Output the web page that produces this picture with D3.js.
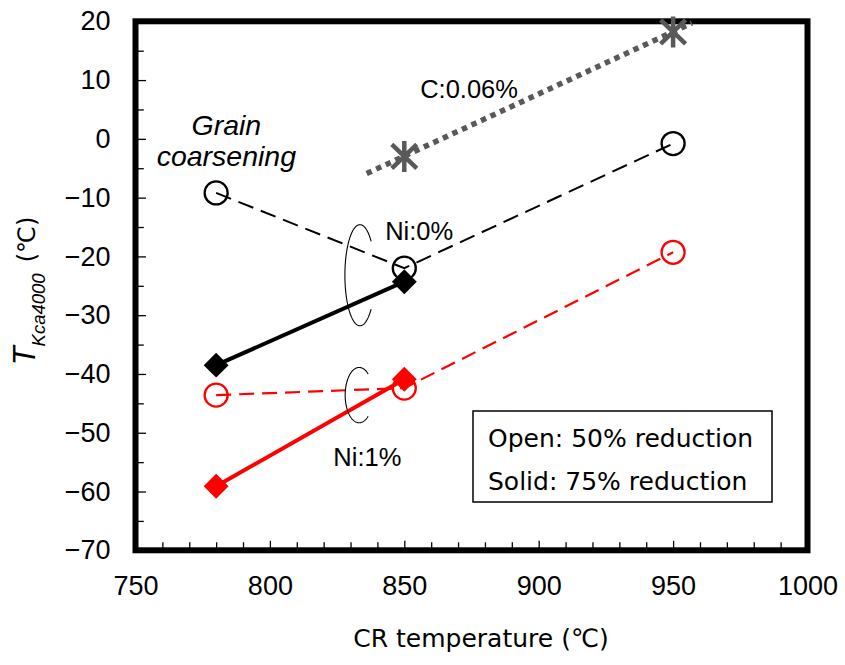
<!DOCTYPE html>
<html>
<head>
<meta charset="utf-8">
<script src="https://cdn.jsdelivr.net/npm/d3@7"></script>
<style>
  html, body { margin: 0; padding: 0; background: #fff; }
  svg { display: block; }
  .tick text { font-family: "Liberation Sans", Arial, sans-serif; font-size: 27px; fill: #000; }
</style>
</head>
<body>
<svg id="chart" width="845" height="665"></svg>
<script>
// CR temperature (°C) at which the plates were rolled
const crTemps = [780, 850, 950];

// T_Kca4000 (°C) for each steel / reduction
const ni0Open  = [-9.2, -22.0, -0.8];   // Ni:0%, 50% reduction
const ni0Solid = [-38.5, -24.3];        // Ni:0%, 75% reduction
const ni1Open  = [-43.6, -42.4, -19.3]; // Ni:1%, 50% reduction
const ni1Solid = [-59.1, -40.9];        // Ni:1%, 75% reduction
const c006Temps = [850, 950];           // C:0.06% steel
const c006Vals  = [-3.0, 18.2];
// dotted trend line through the C:0.06% points
const c006TrendX = [836, 957];
const c006TrendY = [-5.9, 19.7];

// axis ticks
const xMajorTicks = [750, 800, 850, 900, 950, 1000];
const xMinorTicks = d3.range(760, 1000, 10).filter(v => v % 50 !== 0);
const yMajorTicks = [-70, -60, -50, -40, -30, -20, -10, 0, 10, 20];
const yMinorTicks = [-65, -55, -45, -35, -25, -15, -5, 5, 15];

const legendLines = ["Open: 50% reduction", "Solid: 75% reduction"];

const svg = d3.select("#chart");
const plot = { left: 135.5, right: 807.5, top: 21.3, bottom: 550.3 };

const x = d3.scaleLinear().domain([750, 1000]).range([plot.left, plot.right]);
const y = d3.scaleLinear().domain([-70, 20]).range([plot.bottom, plot.top]);

// ---- axes (ticks point inward) ----
const fmt = d3.format("d");
svg.append("g")
  .attr("transform", `translate(0,${plot.bottom})`)
  .call(d3.axisBottom(x).tickValues(xMajorTicks).tickFormat(fmt)
        .tickSizeInner(-9.5).tickSizeOuter(0).tickPadding(26))
  .call(g => g.select(".domain").remove())
  .call(g => g.selectAll(".tick line").attr("stroke", "#000").attr("stroke-width", 1.3));
svg.append("g")
  .attr("transform", `translate(0,${plot.bottom})`)
  .call(d3.axisBottom(x).tickValues(xMinorTicks).tickFormat("")
        .tickSizeInner(-8).tickSizeOuter(0))
  .call(g => g.select(".domain").remove())
  .call(g => g.selectAll(".tick line").attr("stroke", "#000").attr("stroke-width", 1.3));

svg.append("g")
  .attr("transform", `translate(${plot.left},0)`)
  .call(d3.axisLeft(y).tickValues(yMajorTicks).tickFormat(fmt)
        .tickSizeInner(-10.5).tickSizeOuter(0).tickPadding(25))
  .call(g => g.select(".domain").remove())
  .call(g => g.selectAll(".tick line").attr("stroke", "#000").attr("stroke-width", 1.3));
svg.append("g")
  .attr("transform", `translate(${plot.left},0)`)
  .call(d3.axisLeft(y).tickValues(yMinorTicks).tickFormat("")
        .tickSizeInner(-8.3).tickSizeOuter(0))
  .call(g => g.select(".domain").remove())
  .call(g => g.selectAll(".tick line").attr("stroke", "#000").attr("stroke-width", 1.3));

// ---- plot frame ----
svg.append("rect")
  .attr("x", plot.left).attr("y", plot.top)
  .attr("width", plot.right - plot.left).attr("height", plot.bottom - plot.top)
  .attr("fill", "none").attr("stroke", "#000").attr("stroke-width", 6);

// ---- axis titles ----
svg.append("text")
  .attr("x", 481).attr("y", 647)
  .attr("text-anchor", "middle")
  .style("font-family", "'DejaVu Sans', sans-serif")
  .style("font-size", "25px")
  .text("CR temperature (℃)");

const yTitle = svg.append("text")
  .attr("transform", "translate(35,291) rotate(-90)")
  .attr("text-anchor", "middle")
  .style("font-family", "'Liberation Sans', Arial, sans-serif");
yTitle.append("tspan").style("font-style", "italic").style("font-size", "31px").text("T");
yTitle.append("tspan").attr("dy", 10).style("font-style", "italic").style("font-size", "18.5px").text("Kca4000");
yTitle.append("tspan").attr("dy", -10).attr("dx", 11)
  .style("font-family", "'DejaVu Sans', sans-serif").style("font-size", "24px").text("(℃)");

// ---- series ----
const pts = (xs, ys) => ys.map((v, i) => [xs[i], v]);
const line = d3.line().x(d => x(d[0])).y(d => y(d[1]));

// C:0.06% dotted trend
svg.append("path")
  .attr("d", line(pts(c006TrendX, c006TrendY)))
  .attr("fill", "none").attr("stroke", "#595959")
  .attr("stroke-width", 5.5).attr("stroke-dasharray", "5.5 5");

// dashed lines (50% reduction)
svg.append("path")
  .attr("d", line(pts(crTemps, ni0Open)))
  .attr("fill", "none").attr("stroke", "#000")
  .attr("stroke-width", 2).attr("stroke-dasharray", "16 8");
svg.append("path")
  .attr("d", line(pts(crTemps, ni1Open)))
  .attr("fill", "none").attr("stroke", "#ff0000")
  .attr("stroke-width", 2.2).attr("stroke-dasharray", "15 8");

// solid lines (75% reduction)
svg.append("path")
  .attr("d", line(pts(crTemps, ni0Solid)))
  .attr("fill", "none").attr("stroke", "#000").attr("stroke-width", 4);
svg.append("path")
  .attr("d", line(pts(crTemps, ni1Solid)))
  .attr("fill", "none").attr("stroke", "#ff0000").attr("stroke-width", 4);

// open circle markers
function circles(data, color) {
  svg.append("g").selectAll("circle").data(data).join("circle")
    .attr("cx", d => x(d[0])).attr("cy", d => y(d[1])).attr("r", 11.5)
    .attr("fill", "none").attr("stroke", color).attr("stroke-width", 2.3);
}
circles(pts(crTemps, ni0Open), "#000");
circles(pts(crTemps, ni1Open), "#ff0000");

// solid diamond markers
const diamond = d3.symbol().type(d3.symbolSquare).size(310);
function diamonds(data, color) {
  svg.append("g").selectAll("path").data(data).join("path")
    .attr("d", diamond)
    .attr("transform", d => `translate(${x(d[0])},${y(d[1])}) rotate(45)`)
    .attr("fill", color);
}
diamonds(pts(crTemps, ni0Solid), "#000");
diamonds(pts(crTemps, ni1Solid), "#ff0000");

// star markers for C:0.06%
const starPath = "M0,-15.5L0,15.5M-12.5,-12L12.5,12M12.5,-12L-12.5,12";
svg.append("g").selectAll("path").data(pts(c006Temps, c006Vals)).join("path")
  .attr("d", starPath)
  .attr("transform", d => `translate(${x(d[0])},${y(d[1])})`)
  .attr("fill", "none").attr("stroke", "#595959").attr("stroke-width", 4.5);

// ---- grouping brackets (partial ellipses opening to the right) ----
const brackets = [
  { cx: 833.5, cy: -23.2, rx: 5.6, ry: 8.6, open: 42 },
  { cx: 833.2, cy: -43.6, rx: 5.2, ry: 4.7, open: 50 }
];
brackets.forEach(b => {
  const pxr = x(b.cx + b.rx) - x(b.cx);
  const pyr = y(b.cy - b.ry) - y(b.cy);
  const angles = d3.range(b.open, 360 - b.open + 0.1, 2);
  const arc = angles.map(a => [
    x(b.cx) + pxr * Math.cos(a * Math.PI / 180),
    y(b.cy) - pyr * Math.sin(a * Math.PI / 180)
  ]);
  svg.append("path")
    .attr("d", d3.line()(arc))
    .attr("fill", "none").attr("stroke", "#000").attr("stroke-width", 1.1);
});

// ---- annotations ----
const sans = "'Liberation Sans', Arial, sans-serif";
const grain = svg.append("text")
  .attr("text-anchor", "middle")
  .style("font-family", sans).style("font-style", "italic").style("font-size", "28.5px");
grain.append("tspan").attr("x", x(783.8)).attr("y", y(0.6)).text("Grain");
grain.append("tspan").attr("x", x(783.8)).attr("y", y(-4.7)).text("coarsening");

const labels = [
  { t: "C:0.06%", xv: 855.9, yv: 7.0 },
  { t: "Ni:0%",   xv: 842.9, yv: -17.2 },
  { t: "Ni:1%",   xv: 823.6, yv: -55.7 }
];
svg.append("g").selectAll("text").data(labels).join("text")
  .attr("x", d => x(d.xv)).attr("y", d => y(d.yv))
  .style("font-family", sans).style("font-size", "25.5px")
  .text(d => d.t);

// ---- legend box ----
const lg = svg.append("g").attr("transform", "translate(473,411)");
lg.append("rect").attr("width", 299).attr("height", 91)
  .attr("fill", "#fff").attr("stroke", "#000").attr("stroke-width", 1.5);
lg.selectAll("text").data(legendLines).join("text")
  .attr("x", 15).attr("y", (d, i) => 36 + i * 43)
  .style("font-family", "'DejaVu Sans', sans-serif").style("font-size", "25px")
  .text(d => d);
</script>
</body>
</html>
